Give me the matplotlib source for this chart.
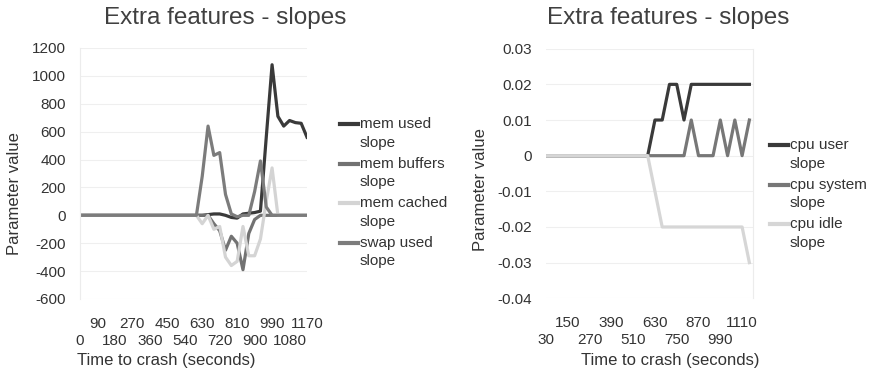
import matplotlib
matplotlib.use("Agg")
import matplotlib.pyplot as plt
from matplotlib.lines import Line2D

plt.rcParams['font.family'] = ['Liberation Sans', 'DejaVu Sans']
plt.rcParams['axes.unicode_minus'] = False

# ---- data ----
t_mem = [0, 30, 60, 90, 120, 150, 180, 210, 240, 270, 300, 330, 360, 390, 420, 450, 480, 510, 540, 570,
         600, 630, 660, 690, 720, 750, 780, 810, 840, 870, 900, 930, 960, 990, 1020, 1050, 1080, 1110, 1140, 1170]
mem_used = [0, 0, 0, 0, 0, 0, 0, 0, 0, 0, 0, 0, 0, 0, 0, 0, 0, 0, 0, 0,
            0, 0, 5, 10, 10, 0, -15, -20, 10, 15, 20, 30, 560, 1080, 710, 640, 680, 665, 660, 560]
mem_buffers = [0, 0, 0, 0, 0, 0, 0, 0, 0, 0, 0, 0, 0, 0, 0, 0, 0, 0, 0, 0,
               0, 0, 0, -60, -110, -250, -150, -200, -390, -130, -30, 0, 0, 0, 0, 0, 0, 0, 0, 0]
mem_cached = [0, 0, 0, 0, 0, 0, 0, 0, 0, 0, 0, 0, 0, 0, 0, 0, 0, 0, 0, 0,
              0, -60, 0, -100, -80, -300, -360, -330, -80, -290, -290, -170, 100, 340, 0, 0, 0, 0, 0, 0]
swap_used = [0, 0, 0, 0, 0, 0, 0, 0, 0, 0, 0, 0, 0, 0, 0, 0, 0, 0, 0, 0,
             0, 280, 640, 430, 450, 150, 10, -10, 0, 0, 170, 390, 60, 0, 0, 0, 0, 0, 0, 0]

t_cpu = [30, 70, 110, 150, 190, 230, 270, 310, 350, 390, 430, 470, 510, 550, 590,
         630, 670, 710, 750, 790, 830, 870, 910, 950, 990, 1030, 1070, 1110, 1150]
cpu_user = [0, 0, 0, 0, 0, 0, 0, 0, 0, 0, 0, 0, 0, 0, 0,
            0.01, 0.01, 0.02, 0.02, 0.01, 0.02, 0.02, 0.02, 0.02, 0.02, 0.02, 0.02, 0.02, 0.02]
cpu_system = [0, 0, 0, 0, 0, 0, 0, 0, 0, 0, 0, 0, 0, 0, 0,
              0, 0, 0, 0, 0, 0.01, 0, 0, 0, 0.01, 0, 0.01, 0, 0.01]
cpu_idle = [0, 0, 0, 0, 0, 0, 0, 0, 0, 0, 0, 0, 0, 0, 0,
            -0.01, -0.02, -0.02, -0.02, -0.02, -0.02, -0.02, -0.02, -0.02, -0.02, -0.02, -0.02, -0.02, -0.03]

mem_labels = ['mem used\nslope', 'mem buffers\nslope', 'mem cached\nslope', 'swap used\nslope']
mem_colors = ['#3a3a3a', '#727272', '#d4d4d4', '#7c7c7c']
cpu_labels = ['cpu user\nslope', 'cpu system\nslope', 'cpu idle\nslope']
cpu_colors = ['#3a3a3a', '#777777', '#d6d6d6']

mem_top_ticks = [90, 270, 450, 630, 810, 990, 1170]
mem_bottom_ticks = [0, 180, 360, 540, 720, 900, 1080]
cpu_top_ticks = [150, 390, 630, 870, 1110]
cpu_bottom_ticks = [30, 270, 510, 750, 990]

W, H = 878, 382
fig = plt.figure(figsize=(W / 100, H / 100), dpi=100)


def box(x0, x1, y0, y1):
    # pixel box -> figure fraction [left, bottom, width, height]
    return [x0 / W, 1 - y1 / H, (x1 - x0) / W, (y1 - y0) / H]


def style(ax, top_ticks, bottom_ticks):
    ax.set_xticks(bottom_ticks, labels=[str(v) for v in bottom_ticks])
    ax.set_xticks(top_ticks, labels=[str(v) for v in top_ticks], minor=True)
    ax.tick_params(axis='x', which='major', length=0, pad=25, labelsize=11, labelcolor='#333333')
    ax.tick_params(axis='x', which='minor', length=0, pad=13, labelsize=11, labelcolor='#333333')
    ax.tick_params(axis='y', length=0, pad=10, labelsize=11, labelcolor='#333333')
    ax.grid(axis='y', color='#efefef', lw=0.8)
    ax.set_axisbelow(True)
    for s in ['top', 'bottom']:
        ax.spines[s].set_visible(False)
    for s in ['left', 'right']:
        ax.spines[s].set_color('#ececec')


def legend(labels, colors, x0, y0, step):
    for i, (lab, col) in enumerate(zip(labels, colors)):
        y = y0 + i * step
        fig.add_artist(Line2D([x0 / W, (x0 + 18) / W], [1 - y / H, 1 - y / H],
                              transform=fig.transFigure, color=col, lw=3))
        fig.text((x0 + 20) / W, 1 - (y + 9.5) / H, lab, fontsize=11, color='#333333',
                 va='center', ha='left', linespacing=1.38)


# left chart
ax1 = fig.add_axes(box(80, 307, 48, 299))
for vals, col in zip([mem_used, mem_buffers, mem_cached, swap_used], mem_colors):
    ax1.plot(t_mem, vals, color=col, lw=2.3, solid_joinstyle='round')
ax1.set_xlim(0, 1170)
ax1.set_ylim(-600, 1200)
ax1.set_yticks(range(-600, 1201, 200))
style(ax1, mem_top_ticks, mem_bottom_ticks)
ax1.spines['right'].set_visible(False)

# right chart
ax2 = fig.add_axes(box(546, 753, 48.7, 298.3))
for vals, col in zip([cpu_user, cpu_system, cpu_idle], cpu_colors):
    ax2.plot(t_cpu, vals, color=col, lw=2.3, solid_joinstyle='round')
ax2.set_xlim(30, 1170)
ax2.set_ylim(-0.04, 0.03)
ax2.set_yticks([-0.04, -0.03, -0.02, -0.01, 0, 0.01, 0.02, 0.03],
               labels=['-0.04', '-0.03', '-0.02', '-0.01', '0', '0.01', '0.02', '0.03'])
style(ax2, cpu_top_ticks, cpu_bottom_ticks)
ax2.spines['left'].set_visible(False)

# titles and axis titles
for cx in [225, 668]:
    fig.text(cx / W, 1 - 18 / H, 'Extra features - slopes', fontsize=17.5, color='#404040',
             ha='center', va='center')
fig.text(166 / W, 1 - 360 / H, 'Time to crash (seconds)', fontsize=12, color='#333333',
         ha='center', va='center')
fig.text(670 / W, 1 - 360 / H, 'Time to crash (seconds)', fontsize=12, color='#333333',
         ha='center', va='center')
fig.text(15 / W, 1 - 194 / H, 'Parameter value', fontsize=12, color='#333333',
         ha='center', va='center', rotation=90)
fig.text(481 / W, 1 - 190 / H, 'Parameter value', fontsize=12, color='#333333',
         ha='center', va='center', rotation=90)

legend(mem_labels, mem_colors, 340, 124, 39.5)
legend(cpu_labels, cpu_colors, 770, 145, 39.5)

fig.savefig('out.png', dpi=100, facecolor='white')
